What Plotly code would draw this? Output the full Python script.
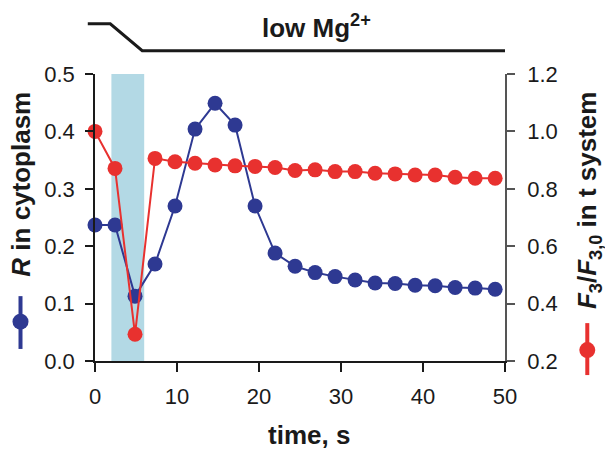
import plotly.graph_objects as go

# ---- data ----
time_s = [0.0, 2.44, 4.88, 7.32, 9.76, 12.2, 14.64, 17.08, 19.52, 21.96, 24.4,
          26.84, 29.28, 31.72, 34.16, 36.6, 39.04, 41.48, 43.92, 46.36, 48.8]
r_cytoplasm = [0.237, 0.237, 0.113, 0.169, 0.270, 0.404, 0.449, 0.411, 0.270, 0.188, 0.165,
               0.154, 0.147, 0.141, 0.136, 0.135, 0.132, 0.131, 0.128, 0.127, 0.125]
f3_t_system = [1.000, 0.871, 0.293, 0.906, 0.894, 0.889, 0.883, 0.880, 0.878, 0.874, 0.864,
               0.866, 0.860, 0.860, 0.854, 0.852, 0.848, 0.848, 0.840, 0.837, 0.837]
shade_start, shade_end = 2.0, 6.0
mg_time = [-0.88, 1.86, 5.76, 50.0]       # protocol bar breakpoints (s)
mg_level = [1.175, 1.175, 1.081, 1.081]   # in paper units above the plot
x_range = [0, 50]
y1_range = [0, 0.5]
y2_range = [0.2, 1.2]
y1_ticks = [0.0, 0.1, 0.2, 0.3, 0.4, 0.5]
y2_ticks = [0.2, 0.4, 0.6, 0.8, 1.0, 1.2]
x_ticks = [0, 10, 20, 30, 40, 50]

BLUE = "#2e3992"
RED = "#e8312f"
FONT = "Liberation Sans"

fig = go.Figure()
fig.add_trace(go.Scatter(x=time_s, y=r_cytoplasm, mode="lines+markers",
                         line=dict(color=BLUE, width=2), marker=dict(color=BLUE, size=15),
                         cliponaxis=False, yaxis="y", showlegend=False))
fig.add_trace(go.Scatter(x=time_s, y=f3_t_system, mode="lines+markers",
                         line=dict(color=RED, width=2), marker=dict(color=RED, size=15),
                         cliponaxis=False, yaxis="y2", showlegend=False))

shapes = []
shapes.append(dict(type="rect", xref="x", yref="y", x0=shade_start, x1=shade_end,
                   y0=y1_range[0], y1=y1_range[1], fillcolor="#b3d9e5", line=dict(width=0),
                   layer="below"))
# protocol bar
to_paper = lambda t: (t - x_range[0]) / (x_range[1] - x_range[0])
path = "M " + " L ".join(f"{to_paper(t)},{y}" for t, y in zip(mg_time, mg_level))
shapes.append(dict(type="path", xref="paper", yref="paper", path=path,
                   line=dict(color="#1a1a1a", width=3)))

# legend keys next to axis titles
def key(xp, ytop, ybot, ydot, color):
    return [
        dict(type="line", xref="paper", yref="paper", x0=xp, x1=xp, y0=ybot, y1=ytop,
             line=dict(color=color, width=4)),
        dict(type="circle", xref="paper", yref="paper", xsizemode="pixel", ysizemode="pixel",
             xanchor=xp, yanchor=ydot, x0=-8, x1=8, y0=-8, y1=8,
             fillcolor=color, line=dict(width=0)),
    ]
shapes += key(-0.1817, 0.226, 0.042, 0.137, BLUE)
shapes += key(1.2007, 0.132, -0.049, 0.038, RED)

annotations = [
    dict(text="<b>low Mg<sup>2+</sup></b>", xref="paper", yref="paper", x=0.541, y=1.167,
         xanchor="center", yanchor="middle", showarrow=False,
         font=dict(family=FONT, size=26, color="#1a1a1a")),
    dict(text="<b>time, s</b>", xref="paper", yref="paper", x=0.521, y=-0.258,
         xanchor="center", yanchor="middle", showarrow=False, borderpad=0,
         font=dict(family=FONT, size=26, color="#1a1a1a")),
    dict(text="<b><i>R</i> in cytoplasm</b>", xref="paper", yref="paper", x=-0.180, y=0.615,
         xanchor="center", yanchor="middle", textangle=-90, showarrow=False,
         font=dict(family=FONT, size=26, color="#1a1a1a")),
    dict(text="<b><i>F</i><sub>3</sub>/<i>F</i><sub>3,0</sub> in t system</b>", xref="paper",
         yref="paper", x=1.205, y=0.561, xanchor="center", yanchor="middle", textangle=-90,
         showarrow=False, font=dict(family=FONT, size=26, color="#1a1a1a")),
]

axis_font = dict(family=FONT, size=22, color="#1a1a1a")
fig.update_layout(
    width=605, height=450,
    margin=dict(l=95, r=100, t=74, b=89),
    paper_bgcolor="white", plot_bgcolor="white",
    shapes=shapes, annotations=annotations,
    xaxis=dict(range=x_range, tickvals=x_ticks, ticks="outside", ticklen=9, tickwidth=1.5,
               tickcolor="#1a1a1a", showline=True, linecolor="#1a1a1a", linewidth=1.5,
               showgrid=False, zeroline=False, tickfont=axis_font, ticklabelstandoff=6),
    yaxis=dict(range=y1_range, tickvals=y1_ticks, tickformat=".1f", ticks="outside", ticklen=8,
               tickwidth=1.5, tickcolor="#1a1a1a", showline=True, linecolor="#1a1a1a",
               linewidth=1.5, showgrid=False, zeroline=False, tickfont=axis_font,
               ticklabelstandoff=6),
    yaxis2=dict(range=y2_range, tickvals=y2_ticks, tickformat=".1f", overlaying="y",
                side="right", ticks="outside", ticklen=8, tickwidth=1.5, tickcolor="#555555",
                showline=True, linecolor="#555555", linewidth=1.5, showgrid=False,
                zeroline=False, tickfont=axis_font, ticklabelstandoff=8),
)

fig.write_html("out.html")
